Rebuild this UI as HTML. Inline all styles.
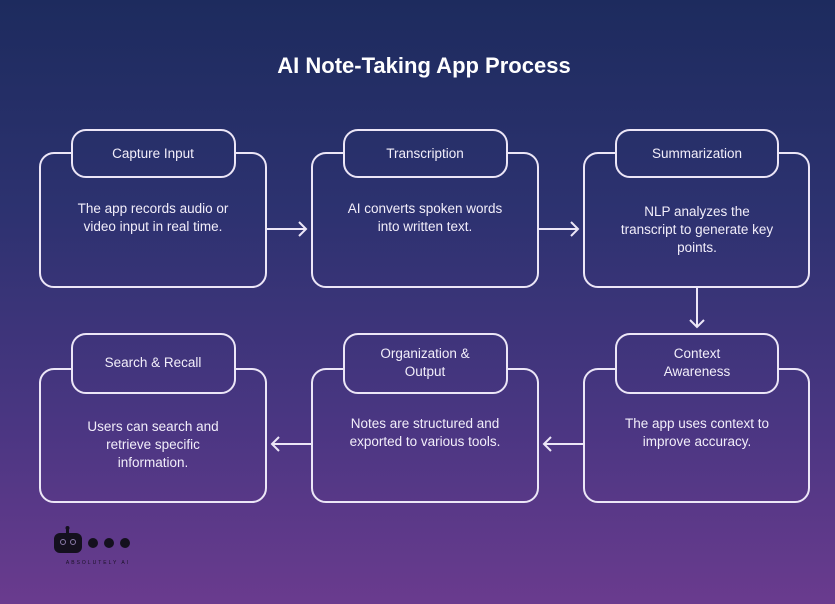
<!DOCTYPE html>
<html><head><meta charset="utf-8"><style>
html,body{margin:0;padding:0;}
body{width:835px;height:604px;overflow:hidden;background:linear-gradient(180deg,#1d2b5e 0%,#2d3270 35%,#4a3682 70%,#6a3b8e 100%);}
svg{display:block}
text{font-family:"Liberation Sans",sans-serif;fill:#f2eefa;}
</style></head><body>
<svg width="835" height="604" viewBox="0 0 835 604">
<defs>
<linearGradient id="bg" x1="0" y1="0" x2="0" y2="604" gradientUnits="userSpaceOnUse">
<stop offset="0" stop-color="#1d2b5e"/><stop offset="0.35" stop-color="#2d3270"/><stop offset="0.7" stop-color="#4a3682"/><stop offset="1" stop-color="#6a3b8e"/>
</linearGradient>
</defs>
<text x="424" y="73" font-size="22" font-weight="bold" text-anchor="middle" style="fill:#fff">AI Note-Taking App Process</text>
<g fill="none" stroke="#ece6f7" stroke-width="2">
<rect x="40" y="153" width="226" height="134" rx="14"/>
<rect x="312" y="153" width="226" height="134" rx="14"/>
<rect x="584" y="153" width="225" height="134" rx="14"/>
<rect x="40" y="369" width="226" height="133" rx="14"/>
<rect x="312" y="369" width="226" height="133" rx="14"/>
<rect x="584" y="369" width="225" height="133" rx="14"/>
</g>
<g fill="url(#bg)" stroke="#ece6f7" stroke-width="2">
<rect x="72" y="130" width="163" height="47" rx="14"/>
<rect x="344" y="130" width="163" height="47" rx="14"/>
<rect x="616" y="130" width="162" height="47" rx="14"/>
<rect x="72" y="334" width="163" height="59" rx="14"/>
<rect x="344" y="334" width="163" height="59" rx="14"/>
<rect x="616" y="334" width="162" height="59" rx="14"/>
</g>
<g fill="none" stroke="#ece6f7" stroke-width="2">
<path d="M266 229H306M299 222l7 7-7 7"/>
<path d="M538 229H578M571 222l7 7-7 7"/>
<path d="M697 288V327M690 320l7 7 7-7"/>
<path d="M584 444H544M551 437l-7 7 7 7"/>
<path d="M312 444H272M279 437l-7 7 7 7"/>
</g>
<g font-size="13.5" text-anchor="middle">
<text x="153" y="158">Capture Input</text>
<text x="425" y="158">Transcription</text>
<text x="697" y="158">Summarization</text>
<text x="153" y="367">Search &amp; Recall</text>
<text x="425" y="358">Organization &amp;</text>
<text x="425" y="376">Output</text>
<text x="697" y="358">Context</text>
<text x="697" y="376">Awareness</text>
<text x="153" y="213">The app records audio or</text>
<text x="153" y="231">video input in real time.</text>
<text x="425" y="213">AI converts spoken words</text>
<text x="425" y="231">into written text.</text>
<text x="697" y="216">NLP analyzes the</text>
<text x="697" y="234">transcript to generate key</text>
<text x="697" y="252">points.</text>
<text x="153" y="431">Users can search and</text>
<text x="153" y="449">retrieve specific</text>
<text x="153" y="467">information.</text>
<text x="425" y="428">Notes are structured and</text>
<text x="425" y="446">exported to various tools.</text>
<text x="697" y="428">The app uses context to</text>
<text x="697" y="446">improve accuracy.</text>
</g>
<g fill="#14101e">
<rect x="54" y="533" width="28" height="20" rx="6"/>
<rect x="66" y="528" width="3" height="6"/>
<circle cx="67.5" cy="528" r="2"/>
<circle cx="93" cy="543" r="5"/>
<circle cx="109" cy="543" r="5"/>
<circle cx="125" cy="543" r="5"/>
</g>
<circle cx="63" cy="542" r="2.5" fill="none" stroke="#8a7aa8" stroke-width="1"/>
<circle cx="73" cy="542" r="2.5" fill="none" stroke="#8a7aa8" stroke-width="1"/>
<text x="98" y="564" font-size="5" text-anchor="middle" letter-spacing="2" style="fill:#1a1226">ABSOLUTELY AI</text>
</svg>
</body></html>
